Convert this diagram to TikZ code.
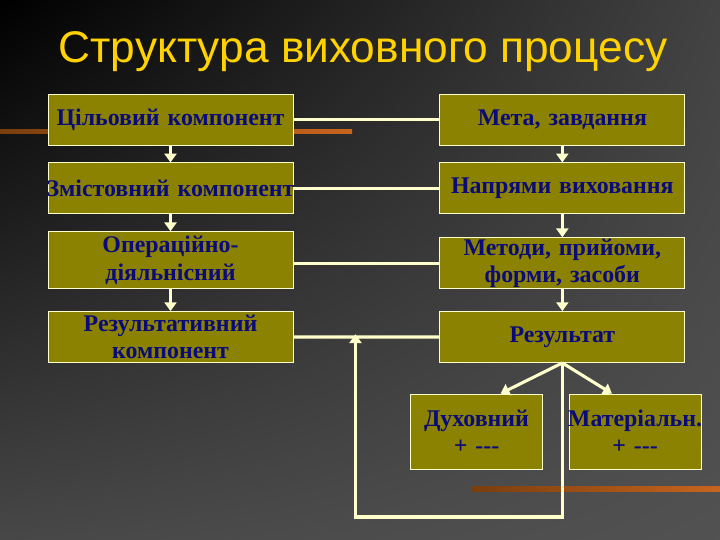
\documentclass[tikz,border=0pt]{standalone}
\usepackage{fontspec}
\setmainfont{Liberation Serif}
\newfontfamily\titlefont{Liberation Sans}
\usepackage{tikz}
\usetikzlibrary{arrows.meta,positioning,calc,shadings}
\definecolor{slolive}{HTML}{8A8200}
\definecolor{slnavy}{HTML}{0A0A7A}
\definecolor{slcream}{HTML}{FFFFCC}
\definecolor{slgold}{HTML}{FFD200}
\definecolor{slbrown}{HTML}{7A3E0E}
\definecolor{slrust}{HTML}{C8641E}
\definecolor{slamber}{HTML}{D89A30}

\begin{document}
\begin{tikzpicture}[
  node distance=0.425cm and 3.65cm,
  every node/.style={font=\bfseries\fontsize{17}{19.5}\selectfont},
  compblock/.style={rectangle,draw=slcream,line width=0.6pt,fill=slolive,text=slnavy,
                    minimum width=6.125cm,minimum height=1.275cm,text width=5.9cm,
                    align=center,inner xsep=2pt,inner ysep=0pt},
  subblock/.style={compblock,minimum width=3.3cm,minimum height=1.875cm,text width=3.1cm},
  link/.style={draw=slcream,line width=2.2pt},
  flow/.style={link,-{Triangle[length=2.2mm,width=3mm]}},
  stripe/.style={left color=slbrown,middle color=slamber,right color=slrust}
]

%% ---- slide background ----
\shade[upper left=black,upper right=black!74,lower left=black!72,lower right=black!68]
  (0,0) rectangle (18,-13.5);
\useasboundingbox (0,0) rectangle (18,-13.5);
\shade[stripe] (0,-3.24) rectangle (8.8,-3.34);
\shade[stripe] (11.8,-12.16) rectangle (18,-12.29);

%% ---- title ----
\node[font=\titlefont\fontsize{31.5}{36}\selectfont,text=slgold,anchor=base] (title)
  at (9.075,-1.55) {Структура виховного процесу};

%% ---- left column ----
\node[compblock] (cil) at (4.2625,-2.9875) {Цільовий компонент};
\node[compblock,below=of cil] (zmist) {\makebox[\linewidth]{Змістовний компонент}};
\node[compblock,below=of zmist,minimum height=1.425cm] (oper) {Операційно-\\ діяльнісний};
\node[compblock,below=0.55cm of oper] (rezk) {Результативний\\ компонент};

%% ---- right column ----
\node[compblock,right=of cil] (meta) {Мета, завдання};
\node[compblock,below=of meta] (napr) {Напрями виховання};
\node[compblock,below=0.575cm of napr] (metod) {Методи, прийоми,\\ форми, засоби};
\node[compblock,below=0.55cm of metod] (rez) {Результат};

%% ---- result split ----
\node[subblock] (duh) at (11.9125,-10.7875) {Духовний\\ + -{}-{}-};
\node[subblock] (mat) at (15.875,-10.7875) {\makebox[\linewidth]{Матеріальн.}\\ + -{}-{}-};

%% ---- links ----
\foreach \a/\b in {cil/meta,zmist/napr,rezk/rez}{
  \draw[link] (\a.east) -- (\b.west);
}
\draw[link] (metod.west -| oper.east) -- (metod.west);
\foreach \a/\b in {cil/zmist,zmist/oper,oper/rezk,meta/napr,napr/metod,metod/rez}{
  \draw[flow] (\a.south) -- (\b.north);
}
\draw[flow] (rez.south) -- ([xshift=0.6cm]duh.north);
\draw[flow] (rez.south) -- ([xshift=-0.575cm]mat.north);

%% ---- feedback loop ----
\coordinate (fb) at ($(rezk.east)!0.425!(rez.west)$);
\draw[flow,shorten >=-2pt] (rez.south) -- ++(0,-3.85) -| (fb);

\end{tikzpicture}
\end{document}
